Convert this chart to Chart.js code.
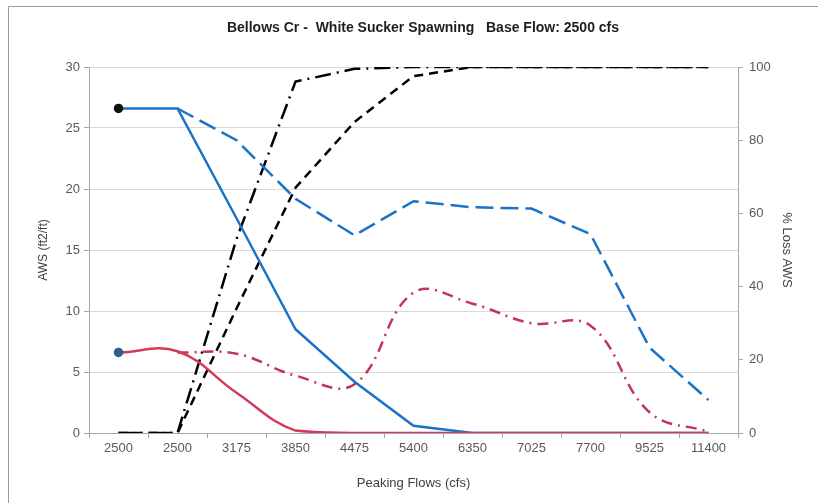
<!DOCTYPE html>
<html><head><meta charset="utf-8">
<script src="https://cdn.jsdelivr.net/npm/chart.js@4"></script>
<style>html,body{margin:0;padding:0;background:#fff}</style>
</head><body>
<canvas id="c" width="818" height="503"></canvas>
<script>
// ---- data ----
const categories = ['2500','2500','3175','3850','4475','5400','6350','7025','7700','9525','11400'];
const awsBlue      = [26.6, 26.6, 17.6, 8.5, 4.2, 0.6, 0, 0, 0, 0, 0];
const awsRed       = [6.6, 6.7, 3.3, 0.2, 0, 0, 0, 0, 0, 0, 0];
const awsBlueAlt   = [null, 26.6, 24.0, 19.2, 16.2, 19.0, 18.5, 18.4, 16.3, 7.0, 2.7];
const awsRedAlt    = [null, 6.6, 6.5, 4.7, 4.0, 11.5, 10.6, 9.0, 8.8, 1.7, 0.1];
const lossDash     = [0, 0, 34, 67, 85, 97.5, 100, 100, 100, 100, 100];
const lossDashDot  = [0, 0, 53, 96, 99.5, 100, 100, 100, 100, 100, 100];
const leftTicks  = {min: 0, max: 30, step: 5};
const rightTicks = {min: 0, max: 100, step: 20};

const FONT = "'Liberation Sans', Arial, sans-serif";
const BLUE = '#1a73c6', RED = '#d23a5c', RED2 = '#c4335a';

const frame = {
  id: 'frame',
  beforeDraw(chart) {
    const ctx = chart.ctx;
    ctx.save();
    ctx.fillStyle = '#fff';
    ctx.fillRect(0, 0, chart.width, chart.height);
    ctx.strokeStyle = '#9a9a9a';
    ctx.lineWidth = 1;
    ctx.beginPath();
    ctx.moveTo(8.5, chart.height);
    ctx.lineTo(8.5, 6.5);
    ctx.lineTo(chart.width, 6.5);
    ctx.stroke();
    ctx.restore();
  }
};

const firstDot = (ctx) => ctx.dataIndex === 0 ? 3.5 : 0;

new Chart(document.getElementById('c'), {
  type: 'line',
  data: {
    labels: categories,
    datasets: [
      { data: awsRed, yAxisID: 'y', borderColor: RED, borderWidth: 2.5, tension: 0.4,
        pointRadius: firstDot, pointBackgroundColor: '#2b5f8e', pointBorderColor: '#2b5f8e', order: 0 },
      { data: awsBlue, yAxisID: 'y', borderColor: BLUE, borderWidth: 2.5, tension: 0,
        pointRadius: firstDot, pointBackgroundColor: '#111', pointBorderColor: '#111', order: 1 },
      { data: awsBlueAlt, yAxisID: 'y', borderColor: BLUE, borderWidth: 2.5, tension: 0,
        borderDash: [18, 7], pointRadius: 0, order: 2 },
      { data: awsRedAlt, yAxisID: 'y', borderColor: RED2, borderWidth: 2.5, tension: 0.4,
        borderDash: [11, 6, 2, 6], pointRadius: 0, order: 3 },
      { data: lossDash, yAxisID: 'y1', borderColor: '#000', borderWidth: 2.5, tension: 0,
        borderDash: [9, 6], pointRadius: 0, order: 4 },
      { data: lossDashDot, yAxisID: 'y1', borderColor: '#000', borderWidth: 2.5, tension: 0,
        borderDash: [16, 6, 2, 6], pointRadius: 0, order: 5 }
    ]
  },
  options: {
    responsive: false,
    animation: false,
    devicePixelRatio: 1,
    layout: { padding: { left: 28, right: 0, top: 0, bottom: 0 } },
    plugins: {
      legend: { display: false },
      tooltip: { enabled: false },
      title: {
        display: true,
        text: 'Bellows Cr -  White Sucker Spawning   Base Flow: 2500 cfs',
        color: '#1e1e1e',
        font: { family: FONT, size: 14, weight: 'bold' },
        padding: { top: 19.6, bottom: 30.6 }
      }
    },
    scales: {
      x: {
        offset: true,
        grid: { display: true, drawOnChartArea: false, drawTicks: true, tickLength: 5, offset: true, color: '#a6a6a6' },
        border: { color: '#a6a6a6' },
        ticks: { color: '#595959', font: { family: FONT, size: 13 }, padding: 3, maxRotation: 0, autoSkip: false },
        title: { display: true, text: 'Peaking Flows (cfs)', color: '#404040',
                 font: { family: FONT, size: 13 }, padding: { top: 4, bottom: 12 } },
        afterFit(s) { s.height = 70; }
      },
      y: {
        position: 'left',
        min: leftTicks.min, max: leftTicks.max,
        ticks: { stepSize: leftTicks.step, color: '#595959', font: { family: FONT, size: 13 }, padding: 4 },
        grid: { color: '#d9d9d9', tickColor: '#a6a6a6', tickLength: 5 },
        border: { color: '#a6a6a6' },
        title: { display: true, text: 'AWS (ft2/ft)', color: '#404040',
                 font: { family: FONT, size: 12 }, padding: { top: 8, bottom: 0 } },
        afterFit(s) { s.width = 61; }
      },
      y1: {
        position: 'right',
        min: rightTicks.min, max: rightTicks.max,
        ticks: { stepSize: rightTicks.step, color: '#595959', font: { family: FONT, size: 13 }, padding: 6 },
        grid: { drawOnChartArea: false, color: '#a6a6a6', tickLength: 5 },
        border: { color: '#a6a6a6' },
        title: { display: true, text: '% Loss AWS', color: '#404040',
                 font: { family: FONT, size: 13 }, padding: { top: 24, bottom: 0 } },
        afterFit(s) { s.width = 80; }
      }
    }
  },
  plugins: [frame]
});
</script>
</body></html>
